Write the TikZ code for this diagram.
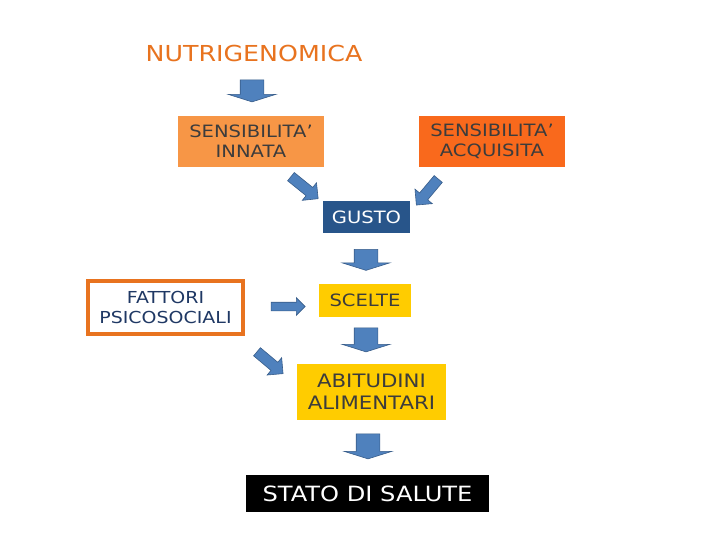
\documentclass[tikz,border=0pt]{standalone}
\usepackage{fontspec}
\setmainfont{DejaVu Sans}[FakeStretch=1.15]
\usepackage{xcolor}
\usetikzlibrary{shapes.arrows, positioning}
\definecolor{aranciochiaro}{HTML}{F79646}
\definecolor{arancioscuro}{HTML}{F9691C}
\definecolor{arancione}{HTML}{E8731F}
\definecolor{oro}{HTML}{FFCC00}
\definecolor{blugusto}{HTML}{28558A}
\definecolor{bluscuro}{HTML}{1F3864}
\definecolor{blufreccia}{HTML}{4F81BD}
\definecolor{bordofreccia}{HTML}{385D8A}
\definecolor{grigiotesto}{HTML}{3C3C3C}

\begin{document}
\begin{tikzpicture}[x=1pt, y=-1pt,
    box/.style={rectangle, inner sep=0pt, align=center},
    giu/.style={single arrow, rotate=-90, draw=bordofreccia, fill=blufreccia, line width=0.6pt,
        inner sep=0pt, inner ysep=11.5pt, single arrow head extend=12pt,
        single arrow tip angle=145, minimum height=#1},
    obliqua/.style={single arrow, draw=bordofreccia, fill=blufreccia, line width=0.6pt,
        inner sep=0pt, inner ysep=5pt, single arrow head extend=6pt,
        single arrow tip angle=90, minimum height=35pt}]
    % Sfondo
    \fill[white] (0,0) rectangle (720,540);
    \useasboundingbox (0,0) rectangle (720,540);

    % Titolo
    \node[text=arancione, font=\fontsize{22}{24}\selectfont] (nutri) at (254,53) {NUTRIGENOMICA};
    \node[giu=22pt] (f1) at (252,89) {};

    % Sensibilita
    \node[box, fill=aranciochiaro, text=grigiotesto, minimum width=146pt, minimum height=51pt,
        font=\fontsize{17}{20}\selectfont] (innata) at (251,141.5) {SENSIBILITA’\\INNATA};
    \node[box, fill=arancioscuro, text=grigiotesto, minimum width=146pt, minimum height=51pt,
        font=\fontsize{17}{20}\selectfont] (acquisita) at (492,141.5) {SENSIBILITA’\\ACQUISITA};
    \node[obliqua, rotate=-39] (f2) at (302.5,186) {};
    \node[obliqua, rotate=-130, minimum height=34pt] (f3) at (429,190) {};

    % Gusto
    \node[box, fill=blugusto, text=white, minimum width=87pt, minimum height=32pt,
        font=\fontsize{17}{20}\selectfont] (gusto) at (366.5,217) {GUSTO};
    \node[giu=21pt] (f4) at (366,258) {};

    % Fattori e scelte
    \node[box, draw=arancione, line width=4pt, fill=white, text=bluscuro, minimum width=155pt,
        minimum height=53pt, font=\fontsize{16.5}{20}\selectfont] (fattori) at (165.5,307.5) {FATTORI\\PSICOSOCIALI};
    \node[obliqua, inner ysep=4pt, single arrow head extend=4.5pt, minimum height=34pt] (f5) at (286,306.5) {};
    \node[box, fill=oro, text=grigiotesto, minimum width=92pt, minimum height=33pt,
        font=\fontsize{17}{20}\selectfont] (scelte) at (365,300.5) {SCELTE};
    \node[giu=24pt] (f6) at (366,338) {};
    \node[obliqua, rotate=-40, minimum height=34pt] (f7) at (268,361) {};

    % Abitudini e salute
    \node[box, fill=oro, text=grigiotesto, minimum width=149pt, minimum height=56pt,
        font=\fontsize{18.5}{22}\selectfont] (abitudini) at (371.5,392) {ABITUDINI\\ALIMENTARI};
    \node[giu=25pt] (f8) at (368,444.5) {};
    \node[box, fill=black, text=white, minimum width=243pt, minimum height=37pt,
        font=\fontsize{21}{24}\selectfont] (salute) at (367.5,493.5) {STATO DI SALUTE};
\end{tikzpicture}
\end{document}
